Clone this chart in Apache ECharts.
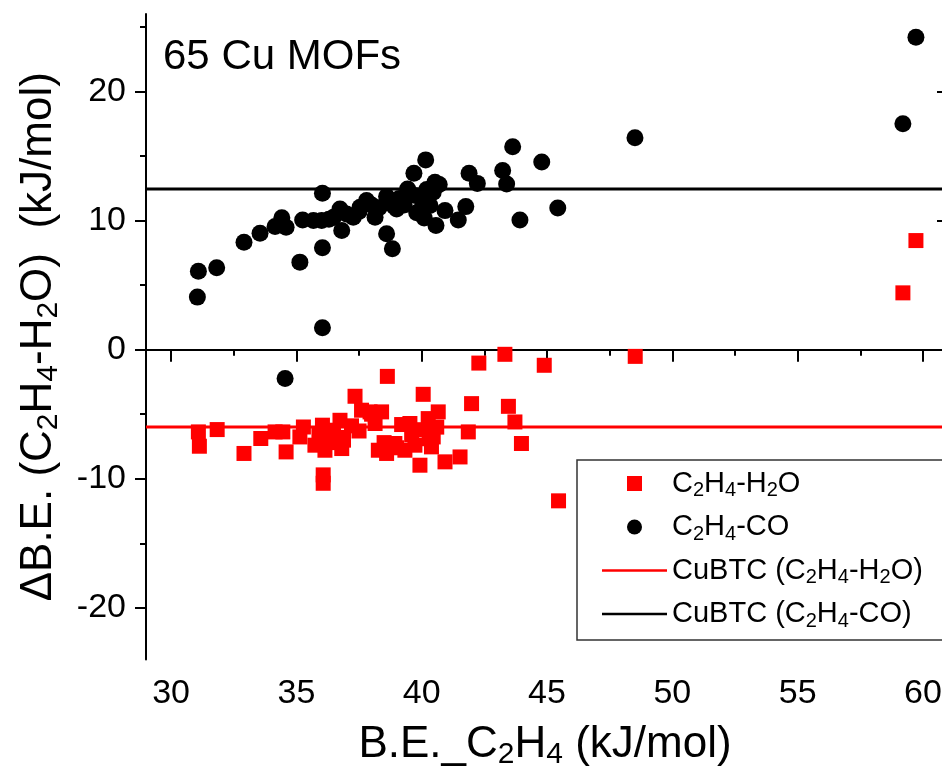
<!DOCTYPE html>
<html>
<head>
<meta charset="utf-8">
<script src="https://cdn.jsdelivr.net/npm/echarts@6/dist/echarts.min.js"></script>
<style>
html,body{margin:0;padding:0;background:#fff;overflow:hidden;}
#c{width:942px;height:766px;}
</style>
</head>
<body>
<div id="c"></div>
<script>
// ---- data ----
const h2oPoints = [
  [31.09,-6.37],[31.13,-7.48],[31.84,-6.19],[32.91,-8.04],[33.58,-6.88],[34.15,-6.37],[34.46,-6.37],
  [34.59,-7.92],[35.28,-5.99],[35.14,-6.76],[35.74,-7.40],[36.04,-5.85],[36.14,-7.79],[36.07,-9.70],
  [36.07,-10.35],[36.74,-5.47],[36.88,-7.01],[36.81,-7.66],[36.48,-6.24],[37.34,-3.61],[37.60,-4.69],
  [37.94,-4.82],[38.40,-4.82],[38.14,-5.72],[38.63,-2.07],[38.27,-7.79],[38.60,-8.04],[38.93,-7.27],
  [39.33,-7.79],[39.53,-5.72],[39.73,-7.40],[39.93,-8.95],[40.06,-3.46],[40.26,-5.34],[40.66,-4.82],
  [40.46,-6.76],[40.39,-7.53],[40.93,-8.69],[41.53,-8.31],[41.86,-6.37],[41.99,-4.18],[42.28,-1.04],
  [43.32,-0.36],[44.89,-1.21],[43.46,-4.39],[43.72,-5.60],[43.98,-7.27],[45.46,-11.71],
  [48.52,-0.52],[59.20,4.40],[59.72,8.45],
  [36.30,-7.20],[36.20,-6.50],[37.20,-5.90],[37.50,-6.30],[38.00,-5.00],[38.50,-7.20],[39.00,-7.60],
  [39.60,-6.60],[40.10,-6.20],[40.30,-6.90],[40.60,-6.00],[36.60,-6.80],[35.90,-6.60],[39.20,-5.80]
];
const coPoints = [
  [43.63,15.72],[40.16,14.70],[44.79,14.54],[39.69,13.66],[41.89,13.66],[43.23,13.87],[42.22,12.88],
  [43.39,12.84],[40.53,12.96],[39.44,12.45],[36.04,12.11],
  [38.60,11.86],[38.86,11.42],[39.79,11.93],[40.06,11.55],[40.46,12.19],[39.99,10.90],[39.00,10.90],
  [38.14,10.26],[37.80,11.55],[37.54,11.03],[37.27,10.26],[36.74,10.90],[36.48,10.26],[36.01,10.00],
  [35.68,10.00],[35.25,10.05],[36.81,9.23],[34.42,10.21],[34.15,9.54],[34.59,9.48],[33.55,9.02],
  [32.91,8.32],[31.82,6.34],[31.09,6.08],[31.05,4.07],[35.14,6.78],[36.04,7.89],[38.60,8.97],
  [38.83,7.81],[36.04,1.70],[40.57,9.61],[40.93,10.77],[41.46,10.05],[41.76,11.08],[43.92,10.05],
  [45.43,10.98],[40.33,11.16],[34.55,-2.24],[48.51,16.42],[59.20,17.50],[59.72,24.20],
  [38.30,11.00],[39.30,11.20],[39.60,12.00],[40.20,12.40],[39.10,11.70],[37.00,10.50],[38.00,11.20],
  [36.30,10.10],[40.70,12.80],[39.80,10.60],[38.90,11.10],[40.10,10.20],[37.50,10.70]
];
const cubtcH2O = -6.0;
const cubtcCO = 12.45;
const xRange = [29, 60.84];
const yRange = [-24, 26];
const xMajor = [30, 35, 40, 45, 50, 55, 60];
const xMinor = [32.5, 37.5, 42.5, 47.5, 52.5, 57.5];
const yMajor = [-20, -10, 0, 10, 20];
const yMinor = [-15, -5, 5, 15, 25];
const seriesNames = ['C2H4-H2O', 'C2H4-CO', 'CuBTC (C2H4-H2O)', 'CuBTC (C2H4-CO)'];
const noteText = '65 Cu MOFs';

// ---- chart ----
const FONT = 'Liberation Sans, Arial, sans-serif';
const chart = echarts.init(document.getElementById('c'), null, {renderer: 'canvas', width: 942, height: 766});

function chem(s, n) {
  // digits that follow a letter become subscript tokens
  let out = '';
  let buf = '';
  for (let i = 0; i < s.length; i++) {
    const ch = s[i];
    if (/[0-9]/.test(ch) && i > 0 && /[A-Za-z]/.test(s[i-1])) {
      if (buf) { out += '{' + n + '|' + buf + '}'; buf = ''; }
      out += '{' + n + 's|' + ch + '}';
    } else {
      buf += ch;
    }
  }
  if (buf) out += '{' + n + '|' + buf + '}';
  return out;
}

const richSet = {
  t: {fontFamily: FONT, fontSize: 44, lineHeight: 50, color: '#000'},
  ts: {fontFamily: FONT, fontSize: 30, lineHeight: 24, verticalAlign: 'bottom', color: '#000'},
  l: {fontFamily: FONT, fontSize: 29, lineHeight: 34, color: '#000'},
  ls: {fontFamily: FONT, fontSize: 20, lineHeight: 16, verticalAlign: 'bottom', color: '#000'}
};

const lineData = (v) => [[xRange[0], v], [xRange[1], v]];
const squareIcon = 'path://M0,0h10v10h-10z';
const lineIcon = 'path://M0,0h65v2.6h-65z';

const option = {
  animation: false,
  backgroundColor: '#fff',
  grid: {left: 146, top: 14, right: -2, bottom: 106.5, containLabel: false, outerBoundsMode: 'none'},
  xAxis: [
    {
      type: 'value', min: xRange[0], max: xRange[1], position: 'bottom',
      name: chem('B.E._C2H4 (kJ/mol)', 't'), nameLocation: 'middle', nameGap: 60,
      nameTextStyle: {rich: richSet},
      axisLine: {show: true, lineStyle: {color: '#000', width: 2}},
      axisTick: {show: true, inside: false, length: 12, customValues: xMajor, lineStyle: {color: '#000', width: 2}},
      axisLabel: {show: true, customValues: xMajor, margin: 17, fontFamily: FONT, fontSize: 34, color: '#000'},
      splitLine: {show: false}
    },
    {
      type: 'value', min: xRange[0], max: xRange[1], position: 'bottom', gridIndex: 0,
      axisLine: {show: false},
      axisTick: {show: true, length: 6, customValues: xMinor, lineStyle: {color: '#000', width: 2}},
      axisLabel: {show: false},
      splitLine: {show: false}
    },
    {
      type: 'value', min: xRange[0], max: xRange[1], position: 'top',
      axisLine: {show: true, lineStyle: {color: '#000', width: 2}},
      axisTick: {show: false}, axisLabel: {show: false}, splitLine: {show: false}
    }
  ],
  yAxis: [
    {
      type: 'value', min: yRange[0], max: yRange[1], position: 'left',
      name: chem('ΔB.E. (C2H4-H2O)  (kJ/mol)', 't'), nameLocation: 'middle', nameGap: 82, nameRotate: 90,
      nameTextStyle: {rich: richSet},
      axisLine: {show: true, lineStyle: {color: '#000', width: 2}},
      axisTick: {show: true, length: 11, customValues: yMajor, lineStyle: {color: '#000', width: 2}},
      axisLabel: {show: true, customValues: yMajor, margin: 20, fontFamily: FONT, fontSize: 34, color: '#000'},
      splitLine: {show: false}
    },
    {
      type: 'value', min: yRange[0], max: yRange[1], position: 'left',
      axisLine: {show: false},
      axisTick: {show: true, length: 6, customValues: yMinor, lineStyle: {color: '#000', width: 2}},
      axisLabel: {show: false}, splitLine: {show: false}
    },
    {
      type: 'value', min: yRange[0], max: yRange[1], position: 'right',
      axisLine: {show: true, lineStyle: {color: '#000', width: 2}},
      axisTick: {show: true, inside: true, length: 7, customValues: yMajor, lineStyle: {color: '#000', width: 2}},
      axisLabel: {show: false}, splitLine: {show: false}
    }
  ],
  legend: {
    orient: 'vertical',
    left: 577, top: 460,
    padding: [9, 20, 9, 25],
    itemGap: 12,
    itemWidth: 65, itemHeight: 15,
    symbolKeepAspect: true,
    backgroundColor: '#fff',
    borderColor: '#333', borderWidth: 1.5,
    selectedMode: false,
    data: [
      {name: seriesNames[0], icon: squareIcon},
      {name: seriesNames[1], icon: 'circle'},
      {name: seriesNames[2], icon: lineIcon},
      {name: seriesNames[3], icon: lineIcon}
    ],
    formatter: (name) => chem(name, 'l'),
    textStyle: {rich: richSet, fontFamily: FONT, fontSize: 29, color: '#000'}
  },
  graphic: [
    {type: 'text', left: 163, top: 36, z: 100,
     style: {text: noteText, fontFamily: FONT, fontSize: 42, fill: '#000'}}
  ],
  series: [
    {
      name: seriesNames[0], type: 'scatter', xAxisIndex: 0, yAxisIndex: 0,
      symbol: 'rect', symbolSize: 15, data: h2oPoints,
      itemStyle: {color: '#ff0000', opacity: 1}, z: 3
    },
    {
      name: seriesNames[1], type: 'scatter', xAxisIndex: 0, yAxisIndex: 0,
      symbol: 'circle', symbolSize: 17, data: coPoints,
      itemStyle: {color: '#000000', opacity: 1}, z: 3
    },
    {
      name: seriesNames[2], type: 'line', xAxisIndex: 0, yAxisIndex: 0,
      symbol: 'none', data: lineData(cubtcH2O),
      lineStyle: {color: '#ff0000', width: 3}, itemStyle: {color: '#ff0000'}, z: 2
    },
    {
      name: seriesNames[3], type: 'line', xAxisIndex: 0, yAxisIndex: 0,
      symbol: 'none', data: lineData(cubtcCO),
      lineStyle: {color: '#000000', width: 3}, itemStyle: {color: '#000000'}, z: 2
    }
  ]
};
chart.setOption(option);
</script>
</body>
</html>
